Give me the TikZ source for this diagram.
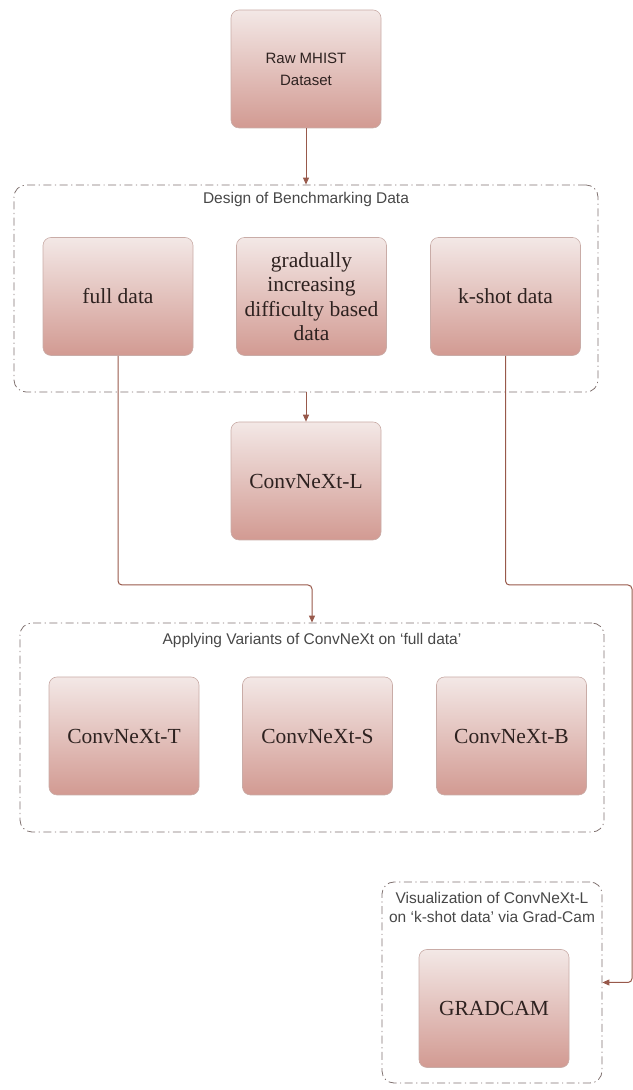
\documentclass[tikz,border=0pt]{standalone}
\usepackage{fontspec}
\setmainfont{Liberation Serif}
\newfontfamily\sansfont{Liberation Sans}
\usetikzlibrary{arrows.meta}
\definecolor{boxtop}{HTML}{F3E8E6}
\definecolor{boxbot}{HTML}{D29A92}
\definecolor{boxline}{HTML}{C9ACA7}
\definecolor{linkcol}{HTML}{98594B}
\definecolor{framecol}{HTML}{807270}
\definecolor{txtcol}{HTML}{2E2220}
\begin{document}
\begin{tikzpicture}[line join=bevel,
  box/.style={draw=boxline,line width=0.6bp,rounded corners=8bp,top color=boxtop,bottom color=boxbot,
    minimum width=150bp,minimum height=118bp,inner sep=0pt,text=txtcol,align=center,
    font=\fontsize{21.5bp}{24.5bp}\selectfont},
  frame/.style={draw=framecol,line width=0.8bp,rounded corners=12bp,
    dash pattern=on 8bp off 3.5bp on 1.2bp off 3.5bp,inner sep=0pt},
  title/.style={text=black!72,inner sep=0pt,align=center,font=\sansfont\fontsize{15.5bp}{19bp}\selectfont},
  link/.style={draw=linkcol,line width=1bp,rounded corners=4bp},
  tip/.style={-{Triangle[length=7bp,width=6bp]}}]
%%
\useasboundingbox (0bp,0bp) rectangle (633bp,1090bp);
\node (f1) at (306bp,801.5bp) [frame,minimum width=584bp,minimum height=207bp] {};
\node (f2) at (312bp,362.5bp) [frame,minimum width=584bp,minimum height=209bp] {};
\node (f3) at (492bp,107.5bp) [frame,minimum width=220bp,minimum height=201bp] {};
\node (t1) at (306bp,890bp) [title] {Design of Benchmarking Data};
\node (t2) at (312bp,450bp) [title] {Applying Variants of ConvNeXt on ‘full data’};
\node (t3) at (492bp,182.5bp) [title] {Visualization of ConvNeXt-L\\on ‘k-shot data’ via Grad-Cam};
\node (1) at (306bp,1021bp) [box,font=\sansfont\fontsize{15bp}{22bp}\selectfont] {Raw MHIST\\Dataset};
\node (2) at (118bp,793.5bp) [box] {full data};
\node (3) at (311.5bp,793.5bp) [box] {gradually\\increasing\\difficulty based\\data};
\node (4) at (505.5bp,793.5bp) [box] {k-shot data};
\node (5) at (306bp,609bp) [box] {ConvNeXt-L};
\node (6) at (124bp,354bp) [box] {ConvNeXt-T};
\node (7) at (317.5bp,354bp) [box] {ConvNeXt-S};
\node (8) at (511.5bp,354bp) [box] {ConvNeXt-B};
\node (9) at (494bp,81.5bp) [box] {GRADCAM};
\coordinate (b1) at (200bp,505bp);
\coordinate (b2) at (632bp,505bp);
\draw [link,tip] (1.south) -- (f1.north);
\draw [link,tip] (f1.south) -- (5.north);
\draw [link,tip] (2.south) |- (b1) -| (f2.north);
\draw [link,tip] (4.south) |- (b2) |- (f3.east);
%
\end{tikzpicture}
\end{document}
